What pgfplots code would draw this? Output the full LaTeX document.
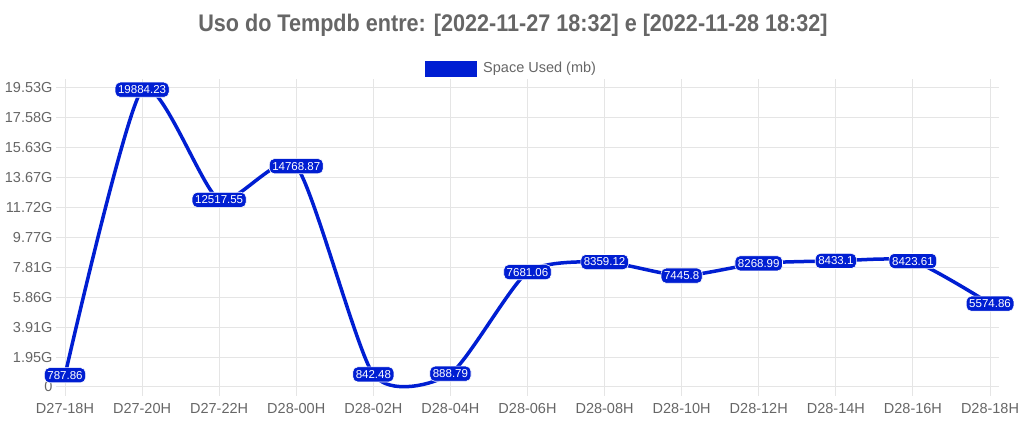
\documentclass[border=0pt]{standalone}
\usepackage{pgfplots}
\pgfplotsset{compat=1.18}
\usepackage{fontspec}
\setmainfont{Liberation Sans}
\definecolor{lineblue}{RGB}{0,30,210}
\definecolor{gridc}{RGB}{229,229,229}
\definecolor{zeroc}{RGB}{191,191,191}
\definecolor{labc}{RGB}{102,102,102}
\begin{document}
\begin{tikzpicture}[x=1pt,y=1pt]
\useasboundingbox (0,0) rectangle (1024,422);
\node[font=\fontsize{24}{28}\selectfont\bfseries, text=labc] at (513,397) {\scalebox{0.9}[1]{Uso do Tempdb entre: [2022-11-27 18:32] e [2022-11-28 18:32]}};
\fill[lineblue] (425,345) rectangle (477,361);
\node[font=\fontsize{14.5}{17}\selectfont, text=labc, anchor=west, inner sep=0pt] at (483,353) {Space Used (mb)};
\begin{axis}[
  at={(65pt,35pt)}, anchor=south west,
  scale only axis, width=925pt, height=299pt,
  xmin=0, xmax=12, ymin=0, ymax=20000,
  xtick={0,1,...,12},
  xticklabels={D27-18H,D27-20H,D27-22H,D28-00H,D28-02H,D28-04H,D28-06H,D28-08H,D28-10H,D28-12H,D28-14H,D28-16H,D28-18H},
  ytick={0,2000,4000,6000,8000,10000,12000,14000,16000,18000,20000},
  yticklabels={0,1.95G,3.91G,5.86G,7.81G,9.77G,11.72G,13.67G,15.63G,17.58G,19.53G},
  scaled y ticks=false,
  grid=major,
  major grid style={draw=gridc, line width=1pt},
  axis line style={draw=gridc, line width=1pt},
  x axis line style={draw=zeroc},
  tick align=outside,
  major tick length=9pt,
  tick style={draw=gridc, line width=1pt},
  ticklabel style={font=\fontsize{14.5}{17}\selectfont, text=labc},
  xticklabel style={yshift=-4pt},
  /pgf/number format/assume math mode=true,
  clip=false,
]
\addplot[smooth, tension=0.38, line width=3.5pt, color=lineblue, mark=none,
  nodes near coords,
  point meta=explicit symbolic,
  nodes near coords style={anchor=center, fill=lineblue, text=white, draw=white, line width=0.6pt,
    rounded corners=5pt, font=\fontsize{11.5}{13}\selectfont, inner xsep=3pt, inner ysep=3.5pt},
] table[x=x, y=y, meta=lab] {
x y lab
0 787.86 787.86
1 19884.23 19884.23
2 12517.55 12517.55
3 14768.87 14768.87
4 842.48 842.48
5 888.79 888.79
6 7681.06 7681.06
7 8359.12 8359.12
8 7445.8 7445.8
9 8268.99 8268.99
10 8433.1 8433.1
11 8423.61 8423.61
12 5574.86 5574.86
};
\end{axis}
\end{tikzpicture}
\end{document}
